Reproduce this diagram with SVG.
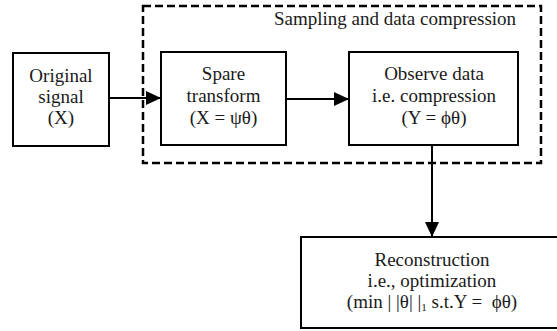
<svg xmlns="http://www.w3.org/2000/svg" width="557" height="331" viewBox="0 0 557 331">
<defs>
<style>
.box{fill:#fff;stroke:#000;stroke-width:2}
.dash{fill:none;stroke:#000;stroke-width:2.5;stroke-dasharray:8 4}
.t{font-family:"Liberation Serif","Times New Roman",serif;font-size:19px;fill:#1a1a1a;text-anchor:middle;white-space:pre}
.edge{stroke:#000;stroke-width:2;fill:none}
</style>
<marker id="ah" markerUnits="userSpaceOnUse" markerWidth="16" markerHeight="14" refX="15" refY="7" orient="auto">
<path d="M0,0 L15,7 L0,14 Z" fill="#000"/>
</marker>
</defs>
<rect width="557" height="331" fill="#fff"/>
<g id="group-sampling">
<rect class="dash" x="143" y="6" width="398" height="157"/>
<text class="t" x="395" y="25">Sampling and data compression</text>
</g>
<g id="node-original">
<rect class="box" x="13" y="53" width="96" height="93"/>
<text class="t" x="61" y="82">Original</text>
<text class="t" x="61" y="103">signal</text>
<text class="t" x="61" y="124">(X)</text>
</g>
<g id="node-spare">
<rect class="box" x="161" y="52" width="125" height="93"/>
<text class="t" x="223.5" y="80">Spare</text>
<text class="t" x="223.5" y="101.5">transform</text>
<text class="t" x="223.5" y="124">(X = ψθ)</text>
</g>
<g id="node-observe">
<rect class="box" x="349" y="52" width="169" height="93"/>
<text class="t" x="434" y="80">Observe data</text>
<text class="t" x="434" y="101.5">i.e. compression</text>
<text class="t" x="434" y="124">(Y = ϕθ)</text>
</g>
<g id="node-reconstruction">
<rect class="box" x="301" y="237" width="270" height="91"/>
<text class="t" x="432" y="266">Reconstruction</text>
<text class="t" x="432" y="287">i.e., optimization</text>
<text class="t" x="432" y="308" xml:space="preserve">(min | |θ| |<tspan font-size="11" dy="3">1</tspan><tspan dy="-3"> s.t.Y =  ϕθ)</tspan></text>
</g>
<g id="connectors">
<line class="edge" x1="109" y1="98" x2="161" y2="98" marker-end="url(#ah)"/>
<line class="edge" x1="286" y1="99" x2="349" y2="99" marker-end="url(#ah)"/>
<line class="edge" x1="432" y1="145" x2="432" y2="237" marker-end="url(#ah)"/>
</g>
</svg>
